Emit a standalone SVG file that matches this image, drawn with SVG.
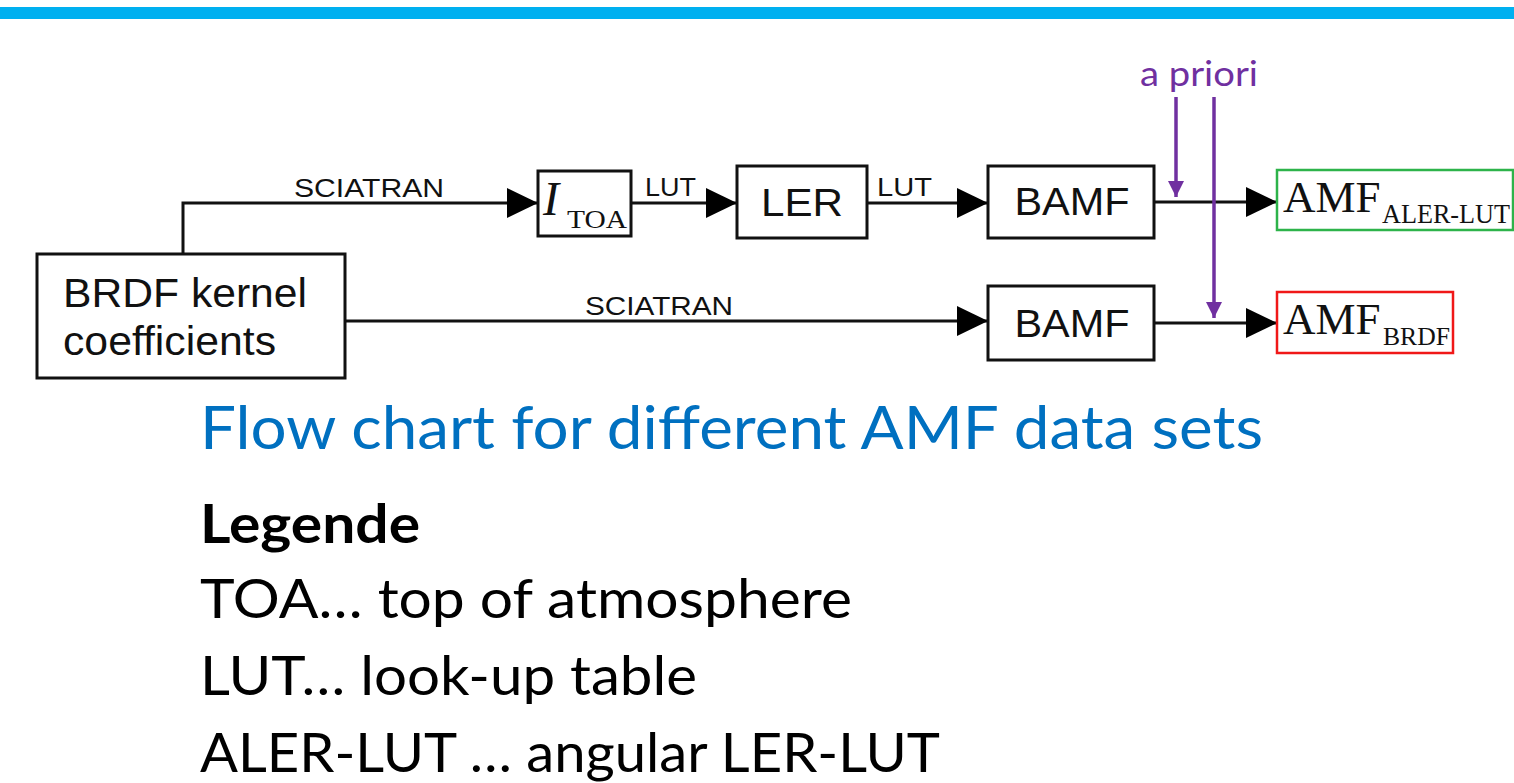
<svg xmlns="http://www.w3.org/2000/svg" width="1514" height="783" viewBox="0 0 1514 783">
  <style>
    .box { fill: #fff; stroke: #111; stroke-width: 3; }
    .wire { fill: none; stroke: #111; stroke-width: 3; }
    .apriori { fill: none; stroke: #7030A0; stroke-width: 3.5; }
    .sans { font-family: "Liberation Sans", Arial, sans-serif; fill: #111; }
    .serif { font-family: "Liberation Serif", "Times New Roman", serif; fill: #111; }
    .lbl { font-size: 26px; }
    .big { font-size: 38px; }
    .slide { font-family: Lato, "Open Sans", sans-serif; }
  </style>
  <defs>
    <marker id="arrow" markerUnits="userSpaceOnUse" markerWidth="31" markerHeight="30" refX="31" refY="15" orient="auto">
      <path d="M0,0 L31,15 L0,30 z" fill="#000"/>
    </marker>
    <marker id="arrowPurple" markerUnits="userSpaceOnUse" markerWidth="16" markerHeight="16" refX="16" refY="8" orient="auto">
      <path d="M0,0 L16,8 L0,16 z" fill="#7030A0"/>
    </marker>
  </defs>

  <!-- header rule -->
  <rect x="0" y="7" width="1514" height="12" fill="#00B0F0"/>

  <g id="connectors">
    <path class="wire" d="M183,254 V203 H538" marker-end="url(#arrow)"/>
    <path class="wire" d="M631,203 H737" marker-end="url(#arrow)"/>
    <path class="wire" d="M867,203 H988" marker-end="url(#arrow)"/>
    <path class="wire" d="M1154,202 H1277" marker-end="url(#arrow)"/>
    <path class="wire" d="M345,321 H988" marker-end="url(#arrow)"/>
    <path class="wire" d="M1154,323 H1277" marker-end="url(#arrow)"/>
    <text class="sans lbl" x="294" y="197" textLength="150" lengthAdjust="spacingAndGlyphs">SCIATRAN</text>
    <text class="sans lbl" x="645" y="196" textLength="51" lengthAdjust="spacingAndGlyphs">LUT</text>
    <text class="sans lbl" x="877" y="196" textLength="55" lengthAdjust="spacingAndGlyphs">LUT</text>
    <text class="sans lbl" x="585" y="315" textLength="148" lengthAdjust="spacingAndGlyphs">SCIATRAN</text>
  </g>

  <g id="apriori">
    <text class="slide" x="1140" y="86" font-size="35" fill="#7030A0" textLength="118" lengthAdjust="spacingAndGlyphs">a priori</text>
    <path class="apriori" d="M1176,97 V197" marker-end="url(#arrowPurple)"/>
    <path class="apriori" d="M1214,97 V318" marker-end="url(#arrowPurple)"/>
  </g>

  <g id="brdf">
    <rect class="box" x="37" y="254" width="308" height="124"/>
    <text class="sans" font-size="40" x="63" y="307" textLength="244" lengthAdjust="spacingAndGlyphs">BRDF kernel</text>
    <text class="sans" font-size="40" x="63" y="355" textLength="213" lengthAdjust="spacingAndGlyphs">coefficients</text>
  </g>

  <g id="itoa">
    <rect class="box" x="538" y="171" width="93" height="65"/>
    <text class="serif" font-size="48" font-style="italic" x="543" y="215">I</text>
    <text class="serif" font-size="25" x="567" y="228" textLength="60" lengthAdjust="spacingAndGlyphs">TOA</text>
  </g>

  <g id="ler">
    <rect class="box" x="737" y="166" width="130" height="72"/>
    <text class="sans big" x="802" y="216" text-anchor="middle" textLength="82" lengthAdjust="spacingAndGlyphs">LER</text>
  </g>

  <g id="bamf-ler">
    <rect class="box" x="988" y="166" width="166" height="72"/>
    <text class="sans big" x="1072" y="215" text-anchor="middle" textLength="115" lengthAdjust="spacingAndGlyphs">BAMF</text>
  </g>

  <g id="bamf-brdf">
    <rect class="box" x="988" y="286" width="166" height="74"/>
    <text class="sans big" x="1072" y="337" text-anchor="middle" textLength="115" lengthAdjust="spacingAndGlyphs">BAMF</text>
  </g>

  <g id="amf-aler-lut">
    <rect x="1277" y="170" width="236" height="60" fill="#fff" stroke="#2DB34A" stroke-width="2.5"/>
    <text class="serif" font-size="45" x="1283" y="212">AMF</text>
    <text class="serif" font-size="26.5" x="1382" y="223" textLength="128" lengthAdjust="spacingAndGlyphs">ALER-LUT</text>
  </g>

  <g id="amf-brdf">
    <rect x="1277" y="292" width="176" height="61" fill="#fff" stroke="#F01818" stroke-width="2.5"/>
    <text class="serif" font-size="45" x="1283" y="334">AMF</text>
    <text class="serif" font-size="26" x="1383" y="345" textLength="67" lengthAdjust="spacingAndGlyphs">BRDF</text>
  </g>

  <g id="caption">
    <text class="slide" x="200" y="449" font-size="60" fill="#0070C0" textLength="1063" lengthAdjust="spacingAndGlyphs">Flow chart for different AMF data sets</text>
  </g>

  <g id="legend" class="slide" fill="#000" font-size="54">
    <text x="200" y="543" font-weight="bold" textLength="220" lengthAdjust="spacingAndGlyphs">Legende</text>
    <text x="200" y="618" textLength="652" lengthAdjust="spacingAndGlyphs">TOA… top of atmosphere</text>
    <text x="200" y="695" textLength="497" lengthAdjust="spacingAndGlyphs">LUT… look-up table</text>
    <text x="200" y="772" textLength="740" lengthAdjust="spacingAndGlyphs">ALER-LUT … angular LER-LUT</text>
  </g>
</svg>
